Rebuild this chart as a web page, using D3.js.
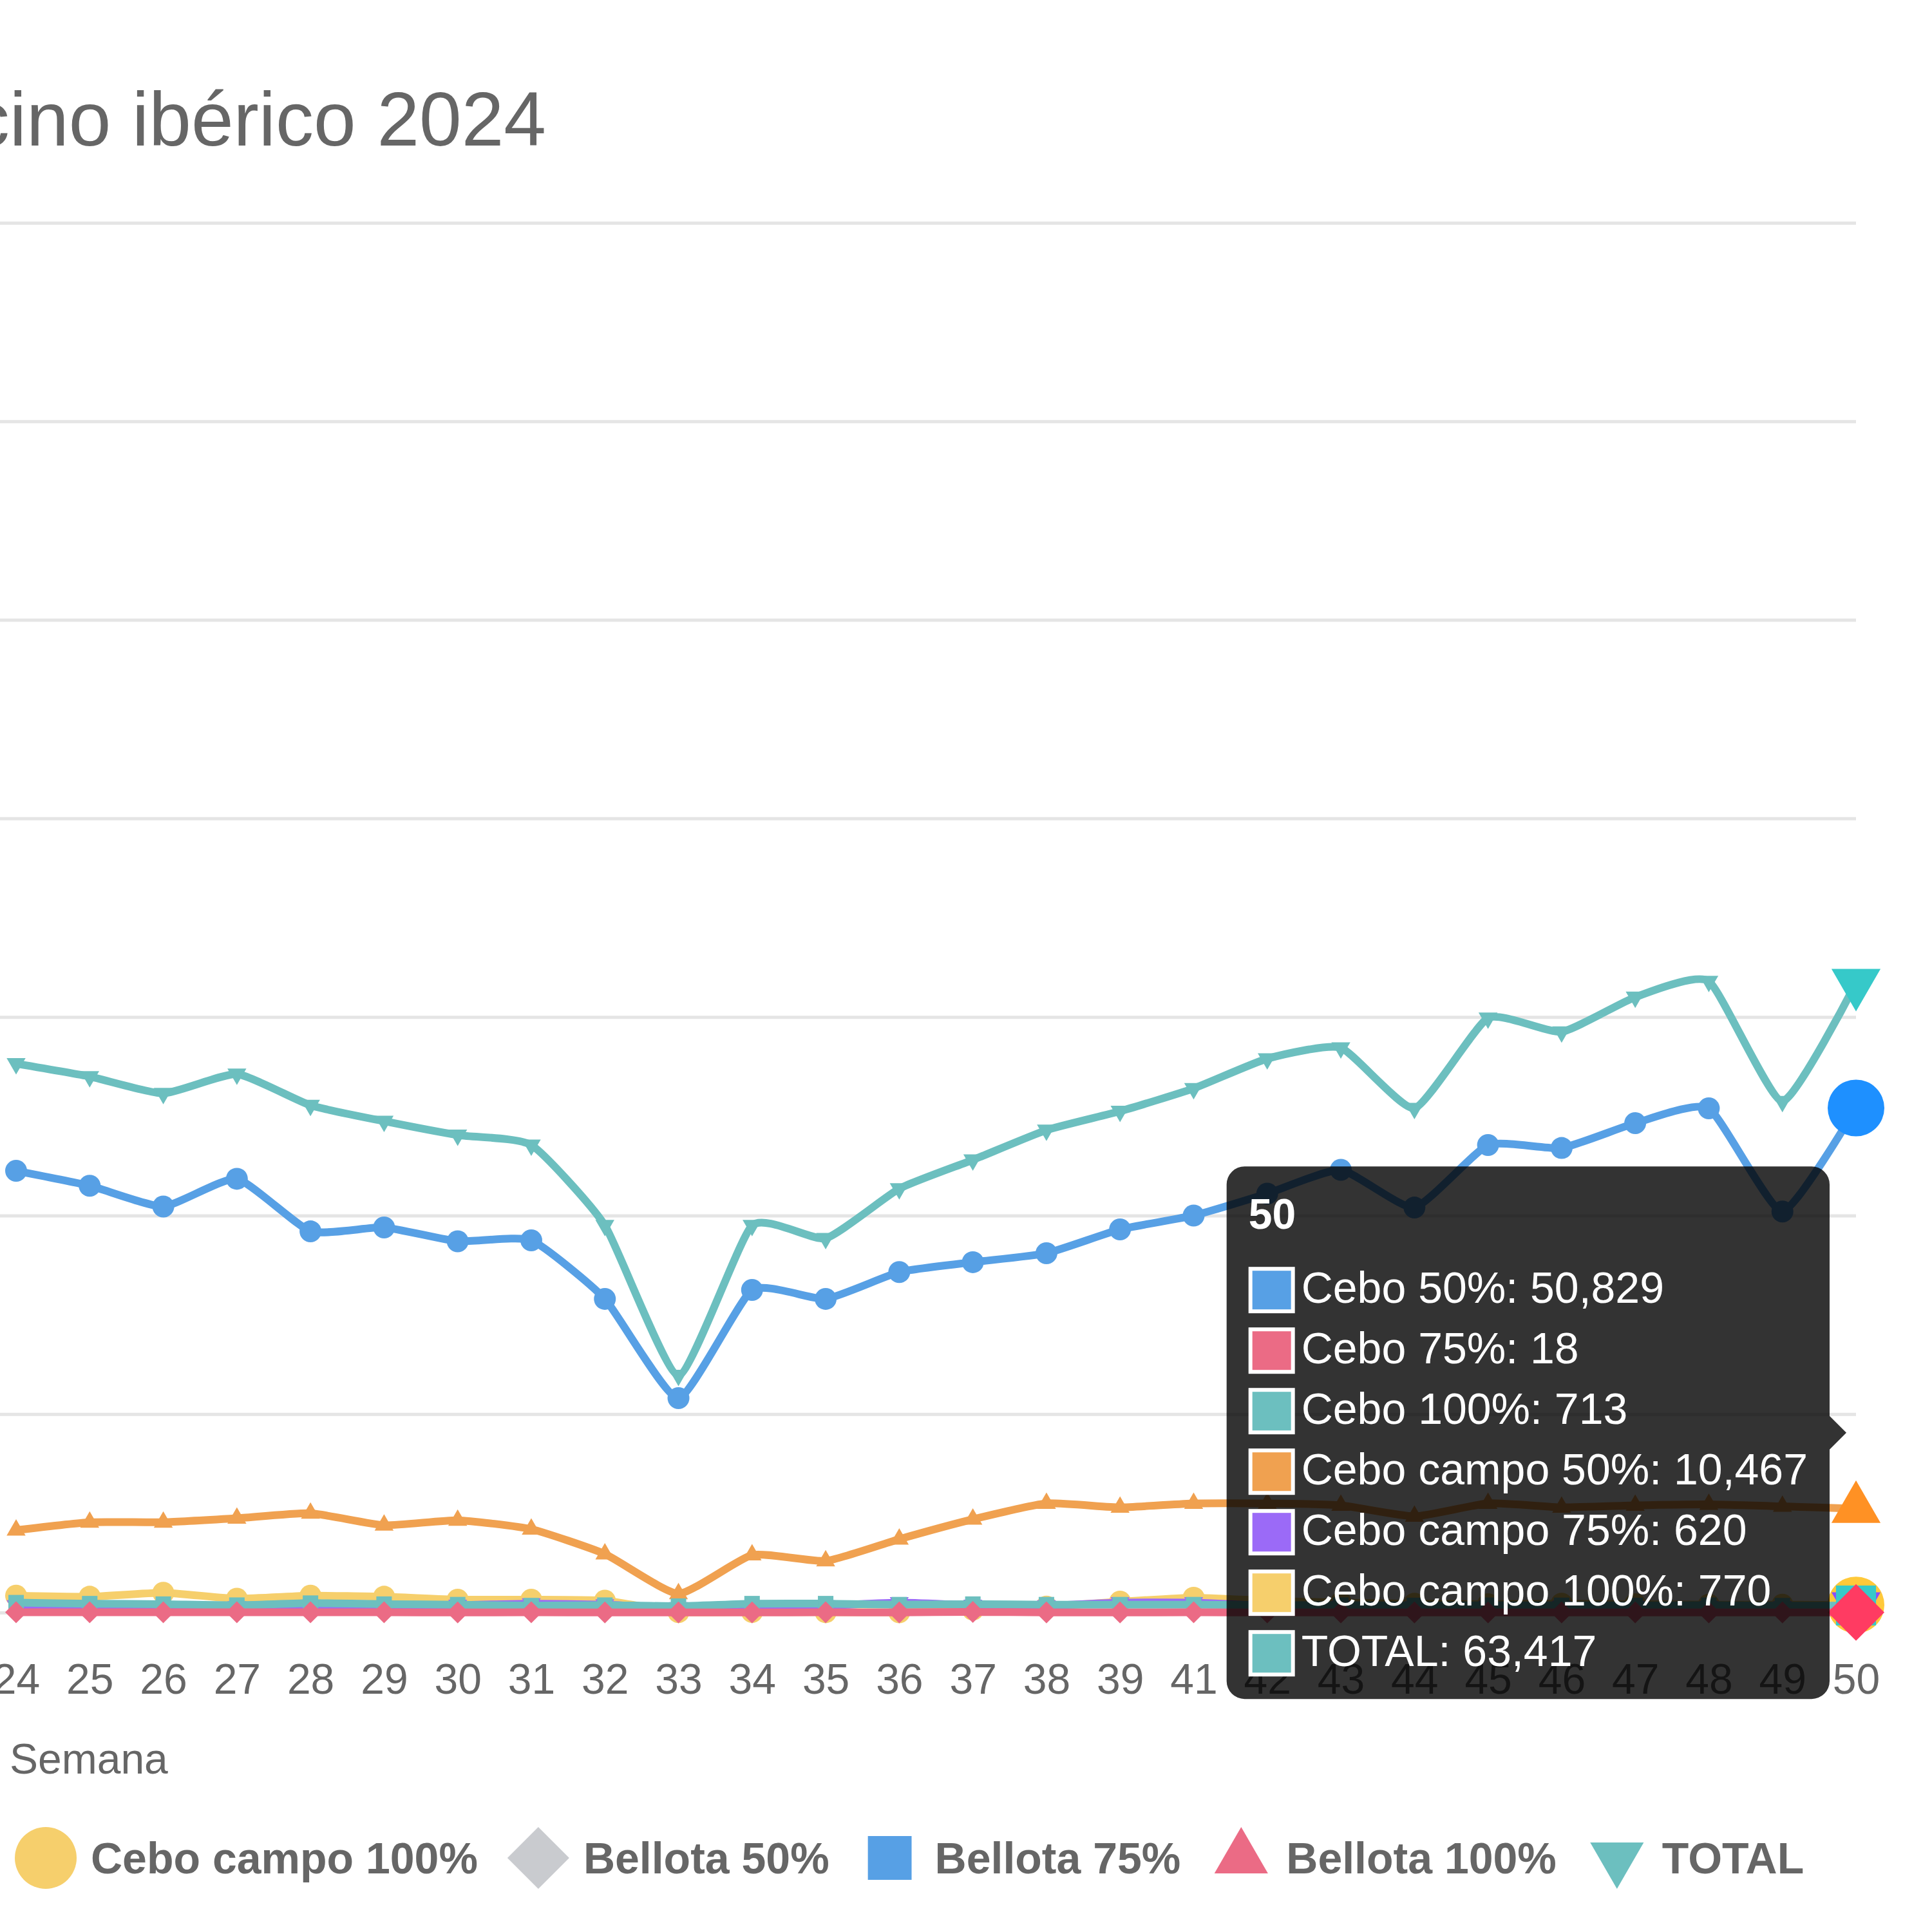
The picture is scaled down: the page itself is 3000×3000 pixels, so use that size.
<!DOCTYPE html>
<html>
<head>
<meta charset="utf-8">
<script src="https://cdn.jsdelivr.net/npm/d3@7"></script>
<style>
  body { margin: 0; background: #fff; }
  text { font-family: "Liberation Sans", Arial, Helvetica, sans-serif; }
</style>
</head>
<body>
<div id="chart"></div>
<script>
// weeks shown on the x axis (week 40 has no data)
var weeks = ["24","25","26","27","28","29","30","31","32","33","34","35","36",
             "37","38","39","41","42","43","44","45","46","47","48","49","50"];

var cebo50    = [44500, 43000, 40900, 43700, 38400, 38800, 37400, 37500, 31600, 21600, 32500, 31600, 34300,
                 35300, 36200, 38600, 40000, 42200, 44600, 40800, 47100, 46800, 49300, 50800, 40400, 50829];
var cebo75    = [30, 25, 30, 25, 30, 25, 20, 25, 20, 10, 20, 25, 20,
                 60, 20, 20, 25, 20, 20, 15, 20, 20, 20, 22, 18, 18];
var cebo100   = [1000, 900, 850, 750, 950, 850, 800, 700, 750, 650, 900, 900, 800,
                 850, 800, 800, 800, 750, 750, 720, 740, 730, 720, 740, 700, 713];
var campo50   = [8300, 9100, 9100, 9500, 10000, 8800, 9300, 8400, 5900, 1900, 5800, 5200, 7400,
                 9400, 11000, 10600, 11000, 11000, 10800, 9700, 11000, 10600, 10800, 10900, 10700, 10467];
var campo75   = [700, 600, 600, 600, 650, 600, 750, 900, 800, 500, 650, 700, 1000,
                 750, 700, 1000, 1000, 700, 650, 600, 650, 650, 620, 640, 600, 620];
var campo100  = [1700, 1600, 2000, 1400, 1700, 1600, 1300, 1300, 1200, 50, 60, 40, 30,
                 300, 600, 1100, 1500, 1200, 1000, 900, 850, 900, 850, 800, 800, 770];
var bellota50  = [];   // no bellota slaughter in these weeks
var bellota75  = [];
var bellota100 = [];
var total     = [55300, 54000, 52300, 54250, 51100, 49500, 48100, 47100, 39000, 23900, 39000, 37700, 42700,
                 45600, 48600, 50500, 52800, 55800, 56900, 50800, 59900, 58500, 62000, 63600, 51500, 63417];

var yTicks = [0, 20000, 40000, 60000, 80000, 100000, 120000, 140000];

var series = [
  {name: "Cebo 50%",        values: cebo50,     color: "#57a0e5", hover: "#1e90ff", shape: "circle"},
  {name: "Cebo 75%",        values: cebo75,     color: "#eb6b85", hover: "#ff3b62", shape: "rectRot"},
  {name: "Cebo 100%",       values: cebo100,    color: "#6cbfbf", hover: "#36c9c9", shape: "rect"},
  {name: "Cebo campo 50%",  values: campo50,    color: "#f0a150", hover: "#ff9124", shape: "triangle"},
  {name: "Cebo campo 75%",  values: campo75,    color: "#9b6af7", hover: "#8a4dff", shape: "triangleDown"},
  {name: "Cebo campo 100%", values: campo100,   color: "#f6cf6c", hover: "#ffc93a", shape: "circle"},
  {name: "Bellota 50%",     values: bellota50,  color: "#c9cbcf", hover: "#b8bcc4", shape: "rectRot"},
  {name: "Bellota 75%",     values: bellota75,  color: "#57a0e5", hover: "#1e90ff", shape: "rect"},
  {name: "Bellota 100%",    values: bellota100, color: "#eb6b85", hover: "#ff3b62", shape: "triangle"},
  {name: "TOTAL",           values: total,      color: "#6cbfbf", hover: "#36c9c9", shape: "triangleDown"}
];

var W = 3000, H = 3000;
var plotRight = 2882, plotTop = 346, plotBottom = 2504;

var svg = d3.select("#chart").append("svg")
    .attr("width", W).attr("height", H);
svg.append("rect").attr("width", W).attr("height", H).attr("fill", "#fff");

var x = d3.scalePoint().domain(weeks).range([25, plotRight]);
var y = d3.scaleLinear().domain([0, 140000]).range([plotBottom, plotTop]);

// point styles like chart.js, r = radius
function shapePath(shape, r) {
  var p = d3.path();
  if (shape == "circle") {
    p.arc(0, 0, r, 0, 2 * Math.PI);
  } else if (shape == "rectRot") {
    p.moveTo(0, -r); p.lineTo(r, 0); p.lineTo(0, r); p.lineTo(-r, 0);
  } else if (shape == "rect") {
    var s = r / Math.SQRT2;
    p.rect(-s, -s, 2 * s, 2 * s);
  } else {
    var a = shape == "triangle" ? 0 : Math.PI;
    for (var k = 0; k < 3; k++) {
      var px = Math.sin(a) * r, py = -Math.cos(a) * r;
      if (k == 0) p.moveTo(px, py); else p.lineTo(px, py);
      a += 2 * Math.PI / 3;
    }
  }
  p.closePath();
  return p.toString();
}

// title (chart is cut on the left)
svg.append("text")
    .attr("x", 848).attr("y", 226)
    .attr("text-anchor", "end")
    .attr("font-size", 118)
    .attr("fill", "#666")
    .text("Sacrificios de porcino ibérico 2024");

// horizontal grid
svg.append("g")
    .attr("transform", "translate(-300,0)")
    .call(d3.axisLeft(y).tickValues(yTicks).tickSize(-(plotRight + 300)))
    .call(function(g) {
      g.select(".domain").remove();
      g.selectAll("text").remove();
      g.selectAll("line").attr("stroke", "#e5e5e5").attr("stroke-width", 5);
    });

// x axis labels
svg.append("g")
    .attr("transform", "translate(0," + plotBottom + ")")
    .call(d3.axisBottom(x).tickSize(0).tickPadding(79))
    .call(function(g) {
      g.select(".domain").remove();
      g.selectAll("text")
        .attr("font-size", 66)
        .attr("font-family", "Liberation Sans, Arial, sans-serif")
        .attr("fill", "#666");
    });

svg.append("text")
    .attr("x", 15).attr("y", 2754)
    .attr("font-size", 66)
    .attr("fill", "#666")
    .text("Semana");

var line = d3.line()
    .defined(function(d) { return d != null; })
    .x(function(d, i) { return x(weeks[i]); })
    .y(function(d) { return y(d); })
    .curve(d3.curveCardinal.tension(0.5));

var last = weeks.length - 1;

// chart.js paints the first dataset on top, so draw in reverse
series.slice().reverse().forEach(function(s) {
  if (!s.values.length) return;
  var g = svg.append("g");
  g.append("path")
      .attr("d", line(s.values))
      .attr("fill", "none")
      .attr("stroke", s.color)
      .attr("stroke-width", 12)
      .attr("stroke-linejoin", "round");
  g.selectAll("path.pt")
    .data(s.values)
    .enter()
    .append("path")
      .attr("class", "pt")
      .attr("transform", function(d, i) { return "translate(" + x(weeks[i]) + "," + y(d) + ")"; })
      .attr("d", function(d, i) { return shapePath(s.shape, i == last ? 44 : 17); })
      .attr("fill", function(d, i) { return i == last ? s.hover : s.color; });
});

// legend (first items are off the left edge)
var legendItems = series.slice(5);
var lg = svg.append("g").attr("transform", "translate(0,2885)");
var cx = 71;
legendItems.forEach(function(s) {
  lg.append("path")
      .attr("transform", "translate(" + cx + ",0)")
      .attr("d", shapePath(s.shape, 48))
      .attr("fill", s.color);
  var t = lg.append("text")
      .attr("x", cx + 70).attr("y", 0)
      .attr("dy", "0.35em")
      .attr("font-size", 68)
      .attr("font-weight", "bold")
      .attr("fill", "#666")
      .text(s.name);
  cx = cx + 70 + t.node().getComputedTextLength() + 94;
});

// tooltip at the last week
var fmt = d3.format(",");
var active = series.filter(function(s) { return s.values.length && s.values[last] != null; });
var px = x(weeks[last]);
var caretY = d3.mean(active, function(s) { return y(s.values[last]); });

var pad = 34, box = 72, titleLH = 79, titleGap = 34, lineStep = 94, bodyLH = 82;
var tipH = pad + titleLH + titleGap + active.length * bodyLH + (active.length - 1) * (lineStep - bodyLH) + pad;
var tipTop = caretY - tipH / 2;

var tip = svg.append("g");
var tipShape = tip.append("path").attr("fill", "rgba(0,0,0,0.8)");
var titleT = tip.append("text")
    .attr("y", tipTop + pad + titleLH / 2)
    .attr("dy", "0.35em")
    .attr("font-size", 66)
    .attr("font-weight", "bold")
    .attr("fill", "#fff")
    .text(weeks[last]);

var maxW = 0;
var rows = active.map(function(s, i) {
  var cy = tipTop + pad + titleLH + titleGap + i * lineStep + bodyLH / 2;
  var wb = tip.append("rect").attr("y", cy - box / 2 + 4).attr("width", box).attr("height", box).attr("fill", "#fff");
  var cb = tip.append("rect").attr("y", cy - box / 2 + 10).attr("width", box - 12).attr("height", box - 12).attr("fill", s.color);
  var t = tip.append("text")
      .attr("y", cy)
      .attr("dy", "0.35em")
      .attr("font-size", 68)
      .attr("fill", "#fff")
      .text(s.name + ": " + fmt(s.values[last]));
  maxW = Math.max(maxW, t.node().getComputedTextLength());
  return [wb, cb, t];
});

var tipRight = px - 41;
var tipLeft = tipRight - (pad + box + 10 + maxW + pad);
var tipBottom = tipTop + tipH;
titleT.attr("x", tipLeft + pad);
rows.forEach(function(r) {
  r[0].attr("x", tipLeft + pad);
  r[1].attr("x", tipLeft + pad + 6);
  r[2].attr("x", tipLeft + pad + box + 10);
});

var cr = 28, cs = 26;
var p = d3.path();
p.moveTo(tipLeft + cr, tipTop);
p.lineTo(tipRight - cr, tipTop);
p.arcTo(tipRight, tipTop, tipRight, tipTop + cr, cr);
p.lineTo(tipRight, caretY - cs);
p.lineTo(tipRight + cs, caretY);
p.lineTo(tipRight, caretY + cs);
p.lineTo(tipRight, tipBottom - cr);
p.arcTo(tipRight, tipBottom, tipRight - cr, tipBottom, cr);
p.lineTo(tipLeft + cr, tipBottom);
p.arcTo(tipLeft, tipBottom, tipLeft, tipBottom - cr, cr);
p.lineTo(tipLeft, tipTop + cr);
p.arcTo(tipLeft, tipTop, tipLeft + cr, tipTop, cr);
p.closePath();
tipShape.attr("d", p.toString());
</script>
</body>
</html>
